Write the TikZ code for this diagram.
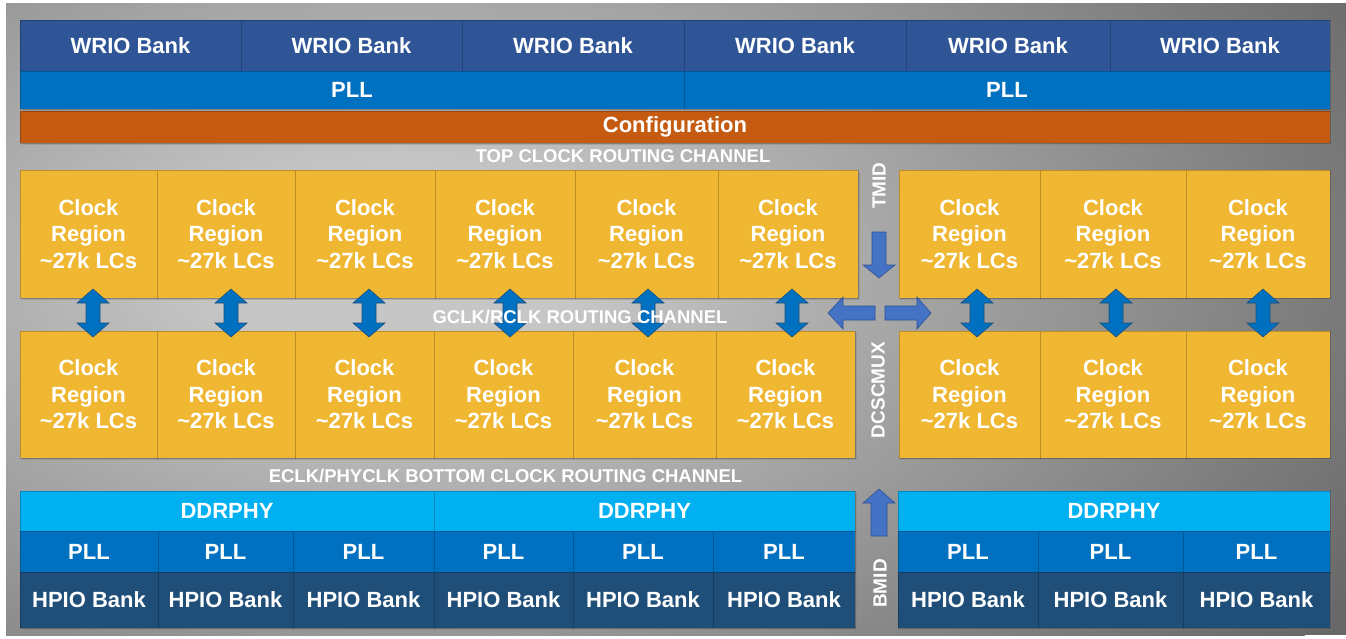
\documentclass[tikz,border=0pt]{standalone}
\usepackage{fontspec}
\setmainfont{Liberation Sans}
\usetikzlibrary{shadows}
\definecolor{wrio}{HTML}{2F5597}
\definecolor{pllc}{HTML}{0070C0}
\definecolor{cfg}{HTML}{C55A11}
\definecolor{clk}{HTML}{F0B732}
\definecolor{ddr}{HTML}{00B0F0}
\definecolor{hpio}{HTML}{1F4E79}
\definecolor{arrA}{HTML}{4472C4}
\definecolor{arrAline}{HTML}{2F528F}
\definecolor{bglight}{HTML}{C6C6C6}
\definecolor{bgdark}{HTML}{686868}
\pgfdeclareradialshading{bgshade}{\pgfpointorigin}{color(0bp)=(bglight); color(4bp)=(bglight); color(25bp)=(bgdark); color(50bp)=(bgdark)}
\tikzset{
 blk/.style={rectangle, anchor=north west, inner sep=0pt, outer sep=0pt, draw=black, draw opacity=0.22, line width=0.8pt, text=white, align=center, font=\bfseries\fontsize{22}{26.5}\selectfont, drop shadow={shadow xshift=1.5pt, shadow yshift=-2pt, opacity=0.35}},
 chan/.style={text=white, font=\bfseries\fontsize{18.5}{20}\selectfont, inner sep=0pt},
 vlab/.style={text=white, font=\bfseries\fontsize{19}{20}\selectfont, inner sep=0pt, rotate=90},
 dbl/.style={fill=pllc, draw=hpio, line width=0.6pt},
 sarr/.style={fill=arrA, draw=arrAline, line width=0.6pt},
}
\newcommand\blkbox[7]{\node[blk, fill=#6, minimum width={#4-#2}, minimum height={#5-#3}] (#1) at (#2,#3) {#7};}
\newcommand\dblarr[2]{\draw[dbl] (#1,#2-24) -- (#1+16,#2-10) -- (#1+7,#2-10) -- (#1+7,#2+10) -- (#1+16,#2+10) -- (#1,#2+24) -- (#1-16,#2+10) -- (#1-7,#2+10) -- (#1-7,#2-10) -- (#1-16,#2-10) -- cycle;}
\begin{document}
\begin{tikzpicture}[x=1pt,y=-1pt]
\useasboundingbox (0,0) rectangle (1346,638);
% background panel
\fill[bgdark] (6,3) rectangle (1346,635);
\begin{scope}
\clip (6,3) rectangle (1346,635);
\shade[shading=bgshade] (400,270) ellipse [x radius=1120, y radius=620];
\end{scope}
% WRIO banks
\foreach \a/\b [count=\i] in {20/241,241/462,462/684,684/906,906/1110,1110/1330}
  {\blkbox{wrio\i}{\a}{20}{\b}{71}{wrio}{WRIO Bank}}
% top PLL
\blkbox{tpll1}{20}{71}{684}{109}{pllc}{PLL}
\blkbox{tpll2}{684}{71}{1330}{109}{pllc}{PLL}
% configuration
\blkbox{cfg}{20}{111}{1330}{143}{cfg}{Configuration}
% clock regions top row
\foreach \a/\b [count=\i] in {20/157,157/295,295/435,435/575,575/718,718/858,899/1040,1040/1186,1186/1330}
  {\blkbox{ct\i}{\a}{170}{\b}{298}{clk}{Clock\\Region\\\textasciitilde27k LCs}}
% clock regions bottom row
\foreach \a/\b [count=\i] in {20/157,157/295,295/434,434/573,573/716,716/855,899/1040,1040/1186,1186/1330}
  {\blkbox{cb\i}{\a}{331}{\b}{458}{clk}{Clock\\Region\\\textasciitilde27k LCs}}
% DDRPHY
\blkbox{ddr1}{20}{491}{434}{531}{ddr}{DDRPHY}
\blkbox{ddr2}{434}{491}{855}{531}{ddr}{DDRPHY}
\blkbox{ddr3}{898}{491}{1330}{531}{ddr}{DDRPHY}
% bottom PLL and HPIO
\foreach \a/\b [count=\i] in {20/158,158/293,293/434,434/573,573/713,713/855,898/1038,1038/1183,1183/1330}
  {\blkbox{bpll\i}{\a}{531}{\b}{572}{pllc}{PLL}}
\foreach \a/\b [count=\i] in {20/158,158/293,293/434,434/573,573/713,713/855,898/1038,1038/1183,1183/1330}
  {\blkbox{hpio\i}{\a}{572}{\b}{628}{hpio}{HPIO Bank}}
% vertical double arrows
\foreach \x in {93,231,369,510,648,792,977,1116,1263} {\dblarr{\x}{313}}
% single block arrows
\draw[sarr] (872,232) -- (886,232) -- (886,265) -- (895,265) -- (879,278) -- (863,265) -- (872,265) -- cycle;
\draw[sarr] (875,306) -- (843,306) -- (843,297) -- (828,313) -- (843,329) -- (843,320) -- (875,320) -- cycle;
\draw[sarr] (885,306) -- (917,306) -- (917,297) -- (931,313) -- (917,329) -- (917,320) -- (885,320) -- cycle;
\draw[sarr] (879,489) -- (895,503) -- (887,503) -- (887,536) -- (871,536) -- (871,503) -- (863,503) -- cycle;
% channel labels
\node[chan] (topch) at (623,156) {TOP CLOCK ROUTING CHANNEL};
\node[chan] (gch) at (580,317) {GCLK/RCLK ROUTING CHANNEL};
\node[chan] (bch) at (505.5,476) {ECLK/PHYCLK BOTTOM CLOCK ROUTING CHANNEL};
\node[vlab] (tmid) at (879,185.5) {TMID};
\node[vlab] (dcs) at (878,390) {DCSCMUX};
\node[vlab] (bmid) at (880,583.5) {BMID};
\end{tikzpicture}
\end{document}
